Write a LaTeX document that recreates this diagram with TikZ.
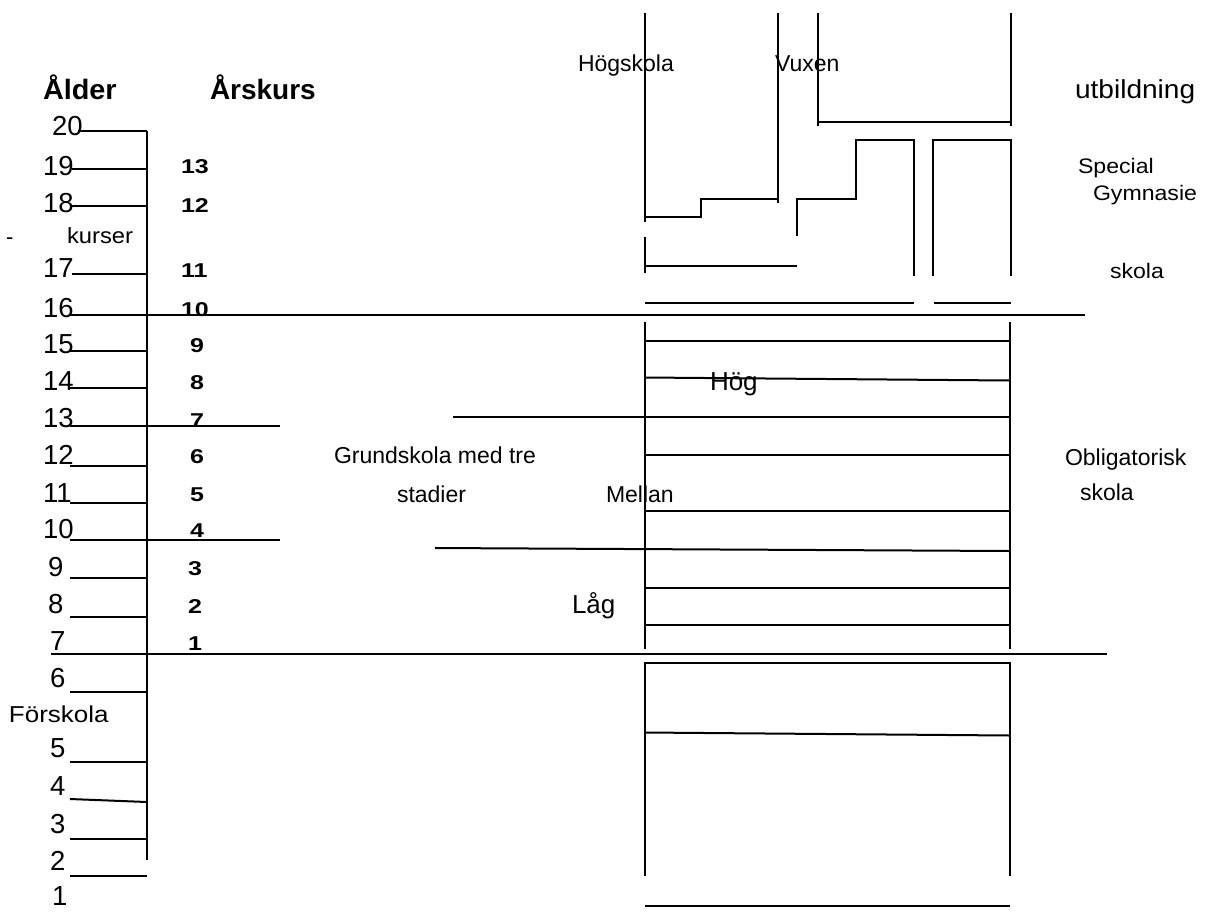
\documentclass[tikz,border=0pt]{standalone}
\usepackage{fontspec}
\setmainfont{Liberation Sans}
\newcommand{\fsz}[1]{\fontsize{#1}{#1}\selectfont}
\newcommand{\sx}[2]{\scalebox{#1}[1]{#2}}
\tikzset{
  lbl/.style={inner sep=0pt, outer sep=0pt, anchor=base west},
  agenum/.style={lbl, font=\fsz{27.5}},
  gradenum/.style={lbl, font=\bfseries\fsz{20}},
  headtxt/.style={lbl, font=\bfseries\fsz{28}},
  plaintxt/.style={lbl, font=\fsz{23}},
  bigtxt/.style={lbl, font=\fsz{26}},
  smalltxt/.style={lbl, font=\fsz{21}},
  ln/.style={line width=2pt, line cap=butt},
  thickln/.style={line width=2.3pt, line cap=butt}
}
\begin{document}
\begin{tikzpicture}[x=1pt,y=-1pt]
\useasboundingbox (0,0) rectangle (1206,911);

% ---------- headers ----------
\node[headtxt] (hAlder) at (43,99) {\sx{1.03}{Ålder}};
\node[headtxt] (hArskurs) at (210,99) {Årskurs};

% ---------- age numbers ----------
\foreach \t/\x/\y in {20/52/135,19/43/175,18/43/212,17/43/277,16/43/317,
  15/43/353,14/43/390,13/43/427,12/43/464,11/43/502,10/43/538,
  9/48/576,8/48/613,7/50/650,6/50/687,5/50/757,4/50/795,3/50/833,2/50/870,1/52/905}
  \node[agenum] (age\t) at (\x,\y) {\t};

% ---------- grade numbers ----------
\foreach \t/\x/\y in {13/181/173,12/181/212,11/181/277,10/181/316,
  9/190/352,8/190/389,7/190/427,6/190/463,5/190/501,4/190/537,
  3/188/575,2/188/613,1/188/650}
  \node[gradenum] (gr\t) at (\x,\y) {\sx{1.25}{\t}};

% ---------- left texts ----------
\node[lbl, font=\fsz{22}] (dash) at (6,244) {-};
\node[lbl, font=\fsz{22}] (kurser) at (67,243) {\sx{1.08}{kurser}};
\node[lbl, font=\fsz{23}] (forskola) at (9,722) {\sx{1.13}{Förskola}};

% ---------- axis ----------
\draw[ln] (147,131) -- (147,860);
\draw[ln] (78,131) -- (147,131);
\foreach \y in {169,206,274}
  \draw[ln] (72,\y) -- (147,\y);
\foreach \y in {351,388,466,503,578,617,692,762,839,876}
  \draw[ln] (70,\y) -- (147,\y);
\draw[ln] (70,799) -- (147,802);
\draw[ln] (70,426) -- (280,426);
\draw[ln] (70,540) -- (280,540);
\draw[thickln] (70,315) -- (1085,315);
\draw[thickln] (51,654) -- (1107,654);

% ---------- upper structure ----------
\draw[ln] (645,13) -- (645,222);
\draw[ln] (645,217) -- (701,217) -- (701,199) -- (778,199);
\draw[ln] (778,13) -- (778,203);
\draw[ln] (818,13) -- (818,126);
\draw[ln] (818,122) -- (1011,122);
\draw[ln] (1011,13) -- (1011,126);
\draw[ln] (797,236) -- (797,199) -- (856,199) -- (856,140) -- (914,140) -- (914,276);
\draw[ln] (933,276) -- (933,140) -- (1011,140) -- (1011,276);
\draw[ln] (645,237) -- (645,273);
\draw[ln] (645,266) -- (797,266);
\draw[ln] (645,303) -- (914,303);
\draw[ln] (934,303) -- (1011,303);

% ---------- grundskola box ----------
\draw[ln] (645,322) -- (645,649);
\draw[ln] (1010,322) -- (1010,649);
\foreach \y in {341,455,511,588,625}
  \draw[ln] (645,\y) -- (1010,\y);
\draw[ln] (645,377.5) -- (1010,380.5);
\draw[ln] (453,417) -- (1010,417);
\draw[ln] (435,548) -- (1010,551);

% ---------- preschool box ----------
\draw[ln] (645,876) -- (645,663) -- (1010,663) -- (1010,876);
\draw[ln] (645,732.5) -- (1010,735.5);
\draw[ln] (645,906) -- (1010,906);

% ---------- texts in structure ----------
\node[plaintxt] (hogskola) at (578,71.7) {Högskola};
\node[plaintxt] (vuxen) at (775,71.7) {Vuxen};
\node[bigtxt] (utbildning) at (1075,98) {\sx{1.08}{utbildning}};
\node[smalltxt] (special) at (1078,173) {\sx{1.1}{Special}};
\node[smalltxt] (gymnasie) at (1093,200) {\sx{1.1}{Gymnasie}};
\node[smalltxt] (skolaG) at (1110,278) {\sx{1.1}{skola}};
\node[bigtxt] (hog) at (710,390) {Hög};
\node[plaintxt] (grund) at (334,463) {Grundskola med tre};
\node[plaintxt] (stadier) at (397,502) {stadier};
\node[plaintxt] (mellan) at (606,502) {Mellan};
\node[bigtxt] (lag) at (572,613) {Låg};
\node[plaintxt] (oblig) at (1065,465) {Obligatorisk};
\node[plaintxt] (skolaO) at (1080,500) {skola};
\end{tikzpicture}
\end{document}
